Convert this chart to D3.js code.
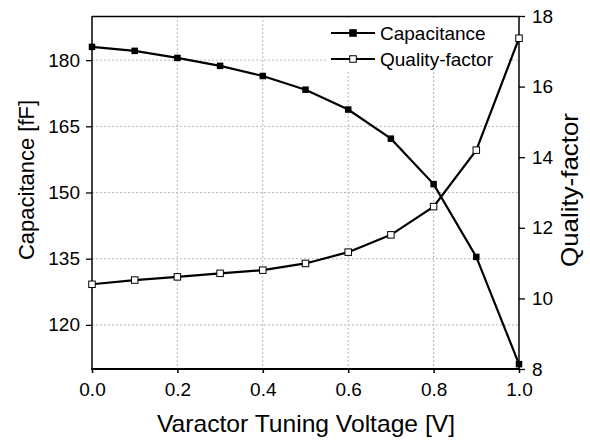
<!DOCTYPE html>
<html><head><meta charset="utf-8">
<script src="https://cdn.jsdelivr.net/npm/d3@7"></script>
<style>body{margin:0;background:#fff}svg{display:block}text{font-family:Arial,"Liberation Sans",sans-serif;fill:#000}</style>
</head><body>
<svg id="c" width="590" height="443"></svg>
<script>
const voltage = [0.0,0.1,0.2,0.3,0.4,0.5,0.6,0.7,0.8,0.9,1.0];
const capacitance = [183.0,182.1,180.5,178.7,176.4,173.3,168.8,162.2,151.9,135.4,111.1];
const qualityFactor = [10.40,10.52,10.61,10.71,10.80,10.99,11.31,11.80,12.60,14.20,17.37];
const xTicks = [0.0,0.2,0.4,0.6,0.8,1.0];
const leftTicks = [120,135,150,165,180];
const rightTicks = [8,10,12,14,16,18];

const svg = d3.select("#c");
const L=92, R=519, T=16, B=369;
const FF = "Arial, 'Liberation Sans', sans-serif";
const x = d3.scaleLinear().domain([0,1]).range([L,R]);
const yL = d3.scaleLinear().domain([110,190]).range([B,T]);
const yR = d3.scaleLinear().domain([8,18]).range([B,T]);

// grid
const g = svg.append("g");
g.selectAll("line.vg").data(xTicks.filter(d=>d>0&&d<1)).join("line")
  .attr("x1",d=>x(d)).attr("x2",d=>x(d)).attr("y1",T).attr("y2",B)
  .attr("stroke","#b8b8b8").attr("stroke-width",1).attr("stroke-dasharray","2,2");
g.selectAll("line.hg").data(leftTicks).join("line")
  .attr("y1",d=>yL(d)).attr("y2",d=>yL(d)).attr("x1",L).attr("x2",R)
  .attr("stroke","#b8b8b8").attr("stroke-width",1).attr("stroke-dasharray","2,2");

// frame top
svg.append("line").attr("x1",L).attr("x2",R).attr("y1",T+0.5).attr("y2",T+0.5).attr("stroke","#000").attr("stroke-width",1.3);

// axes
const ax = svg.append("g").attr("transform",`translate(0,${B})`)
  .call(d3.axisBottom(x).tickValues(xTicks).tickFormat(d3.format(".1f")).tickSize(4).tickPadding(10));
ax.selectAll(".tick line").attr("stroke-width",1.5);
ax.selectAll("text").attr("font-size",19).attr("font-family",FF);

const al = svg.append("g").attr("transform",`translate(${L},0)`)
  .call(d3.axisLeft(yL).tickValues(leftTicks).tickSize(6).tickPadding(6));
al.selectAll(".tick line").attr("stroke-width",1.3);
al.selectAll("text").attr("font-size",19).attr("font-family",FF);

const ar = svg.append("g").attr("transform",`translate(${R},0)`)
  .call(d3.axisRight(yR).tickValues(rightTicks).tickSize(6).tickPadding(7));
ar.selectAll(".tick line").attr("stroke-width",1.3);
ar.selectAll("text").attr("font-size",19).attr("font-family",FF);

al.select(".domain").attr("d",`M0,${T}V${B}`).attr("stroke-width",1.5);
ar.select(".domain").attr("d",`M0,${T}V${B}`).attr("stroke-width",1.5);
ax.select(".domain").attr("d",`M${L-1},0H${R+1}`).attr("stroke-width",2.2);

// lines
const capData = voltage.map((v,i)=>({v, c:capacitance[i]}));
const qData = voltage.map((v,i)=>({v, q:qualityFactor[i]}));
svg.append("path").datum(capData)
  .attr("d",d3.line().x(d=>x(d.v)).y(d=>yL(d.c)))
  .attr("fill","none").attr("stroke","#000").attr("stroke-width",2.2);
svg.append("path").datum(qData)
  .attr("d",d3.line().x(d=>x(d.v)).y(d=>yR(d.q)))
  .attr("fill","none").attr("stroke","#000").attr("stroke-width",2.2);
const s=6.5;
svg.selectAll("rect.cm").data(capData).join("rect")
  .attr("x",d=>x(d.v)-s/2).attr("y",d=>yL(d.c)-s/2).attr("width",s).attr("height",s).attr("fill","#000");
svg.selectAll("rect.qm").data(qData).join("rect")
  .attr("x",d=>x(d.v)-s/2).attr("y",d=>yR(d.q)-s/2).attr("width",s).attr("height",s)
  .attr("fill","#fff").attr("stroke","#000").attr("stroke-width",1);

// legend
const lg = svg.append("g");
lg.append("rect").attr("x",326).attr("y",20).attr("width",180).attr("height",50).attr("fill","#fff");
[["Capacitance","#000",33],["Quality-factor","#fff",59]].forEach(([t,f,yy])=>{
  lg.append("line").attr("x1",331).attr("x2",375).attr("y1",yy).attr("y2",yy).attr("stroke","#000").attr("stroke-width",2.2);
  lg.append("rect").attr("x",353-s/2).attr("y",yy-s/2).attr("width",s).attr("height",s).attr("fill",f).attr("stroke","#000").attr("stroke-width",1);
  lg.append("text").attr("x",380).attr("y",yy).attr("dy","0.35em").attr("font-size",19).text(t);
});

// titles
svg.append("text").attr("x",306).attr("y",432).attr("text-anchor","middle").attr("font-size",24)
  .attr("textLength",298).attr("lengthAdjust","spacingAndGlyphs").text("Varactor Tuning Voltage [V]");
svg.append("text").attr("transform","translate(34,180) rotate(-90)").attr("text-anchor","middle").attr("font-size",22)
  .text("Capacitance [fF]");
svg.append("text").attr("transform","translate(578,190) rotate(-90)").attr("text-anchor","middle").attr("font-size",24)
  .attr("textLength",154).attr("lengthAdjust","spacingAndGlyphs").text("Quality-factor");
</script>
</body></html>
